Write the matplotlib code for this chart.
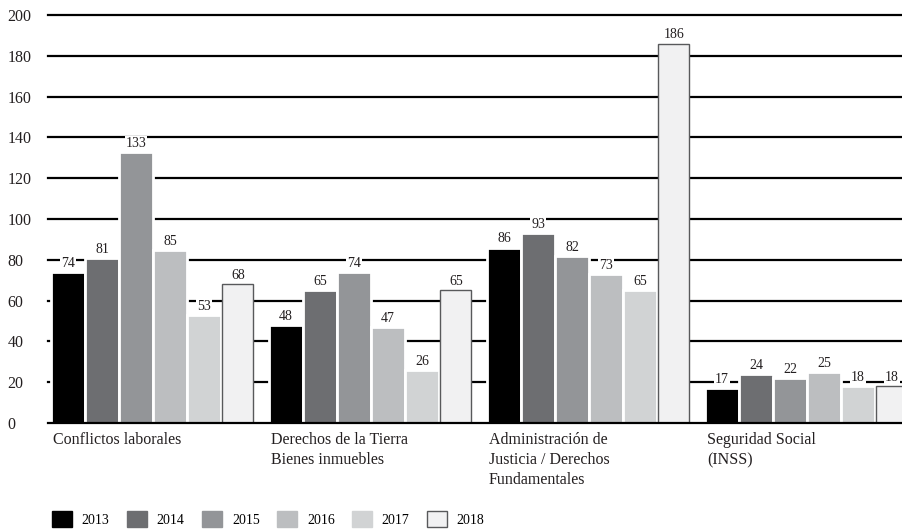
import matplotlib
matplotlib.use("Agg")
import matplotlib.pyplot as plt
from matplotlib.patches import Patch
import numpy as np

categories = ["Conflictos laborales",
              "Derechos de la Tierra\nBienes inmuebles",
              "Administración de\nJusticia / Derechos\nFundamentales",
              "Seguridad Social\n(INSS)"]
years = ["2013", "2014", "2015", "2016", "2017", "2018"]
values = {
    "2013": [74, 48, 86, 17],
    "2014": [81, 65, 93, 24],
    "2015": [133, 74, 82, 22],
    "2016": [85, 47, 73, 25],
    "2017": [53, 26, 65, 18],
    "2018": [68, 65, 186, 18],
}
colors = ["#000000", "#6d6e71", "#939598", "#bcbec0", "#d1d3d4", "#f1f1f2"]
yticks = [0, 20, 40, 60, 80, 100, 120, 140, 160, 180, 200]

plt.rcParams["font.family"] = ["Liberation Serif", "DejaVu Serif"]

fig = plt.figure(figsize=(9.03, 5.30), dpi=100)
ax = fig.add_axes([48 / 903, 107 / 530, 855 / 903, 408 / 530])

x = np.arange(len(categories))
step = 34 / 218
width = 34 / 218
offsets = (np.arange(len(years)) - (len(years) - 1) / 2) * step

for i, yr in enumerate(years):
    last = (i == len(years) - 1)
    bars = ax.bar(x + offsets[i], values[yr],
                  width=(31 / 218) if last else width,
                  color=colors[i],
                  edgecolor="#58595b" if last else "white",
                  linewidth=1.0 if last else 2.0,
                  zorder=3)
    for b, v in zip(bars, values[yr]):
        ax.annotate(str(v), (b.get_x() + b.get_width() / 2, v),
                    xytext=(0, 1.5), textcoords="offset points",
                    ha="center", va="bottom", fontsize=10, color="#231f20",
                    bbox=dict(facecolor="white", edgecolor="none", pad=0.6),
                    zorder=4)

for t in yticks:
    ax.axhline(t, color="black", linewidth=1.6,
               zorder=5 if t == 0 else 1, clip_on=False)

ax.set_xlim(-(153 - 48) / 218, (903 - 153) / 218)
ax.set_ylim(0, 200)
ax.set_yticks(yticks)
ax.set_yticklabels([str(t) for t in yticks], fontsize=11.5, color="#231f20")
for lbl in ax.get_yticklabels():
    lbl.set_horizontalalignment("left")
ax.tick_params(axis="y", length=0, pad=29)
ax.set_xticks([])
for s in ax.spines.values():
    s.set_visible(False)

group_left = x + offsets[0] - width / 2
for gx, name in zip(group_left, categories):
    ax.text(gx + 2 / 218, -0.022, name, transform=ax.get_xaxis_transform(),
            ha="left", va="top", fontsize=11.5, linespacing=1.35,
            color="#231f20")

handles = [Patch(facecolor=c, edgecolor=("#58595b" if i == 5 else c),
                 linewidth=1.0) for i, c in enumerate(colors)]
fig.legend(handles, years, loc="center left",
           bbox_to_anchor=(52 / 903, 11 / 530), ncol=6, frameon=False,
           fontsize=10, handlelength=1.45, handleheight=1.45,
           handletextpad=0.7, columnspacing=1.25, borderpad=0,
           borderaxespad=0)

fig.savefig("out.png", dpi=100)
